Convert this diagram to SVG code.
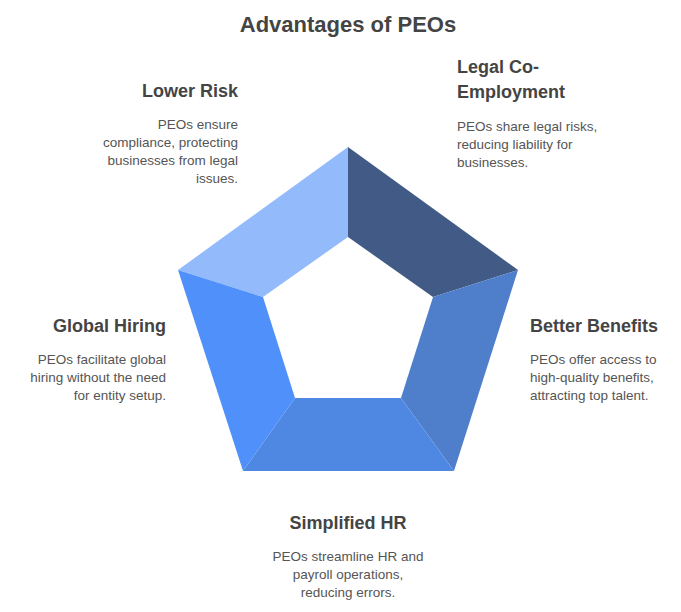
<svg xmlns="http://www.w3.org/2000/svg" width="681" height="612" viewBox="0 0 681 612">
<style>
text{font-family:"Liberation Sans",Arial,sans-serif}
.t{font-size:22px;font-weight:bold;fill:#444}
.h{font-size:18px;font-weight:bold;fill:#444}
.b{font-size:13.5px;fill:#555}
</style>
<rect width="681" height="612" fill="#fff"/>
<text class="t" x="348" y="32" text-anchor="middle">Advantages of PEOs</text>
<g id="connectors"></g>
<g id="seg-lower-risk"><polygon points="348,147 348,237 263,297 178,270" fill="#93bafb"/></g>
<g id="seg-legal"><polygon points="348,147 518,270 433,297 348,237" fill="#415b86"/></g>
<g id="seg-benefits"><polygon points="518,270 454,471 401,398 433,297" fill="#4f7fcb"/></g>
<g id="seg-hr"><polygon points="454,471 243,471 295,398 401,398" fill="#4f88e3"/></g>
<g id="seg-global"><polygon points="243,471 178,270 263,297 295,398" fill="#4f90fa"/></g>
<g id="lower-risk" text-anchor="end">
<text class="h" x="238" y="97">Lower Risk</text>
<text class="b" x="238" y="129">PEOs ensure</text>
<text class="b" x="238" y="147">compliance, protecting</text>
<text class="b" x="238" y="165">businesses from legal</text>
<text class="b" x="238" y="183">issues.</text>
</g>
<g id="legal">
<text class="h" x="457" y="73">Legal Co-</text>
<text class="h" x="457" y="98">Employment</text>
<text class="b" x="457" y="131">PEOs share legal risks,</text>
<text class="b" x="457" y="149">reducing liability for</text>
<text class="b" x="457" y="167">businesses.</text>
</g>
<g id="global" text-anchor="end">
<text class="h" x="166" y="332">Global Hiring</text>
<text class="b" x="166" y="364">PEOs facilitate global</text>
<text class="b" x="166" y="382">hiring without the need</text>
<text class="b" x="166" y="400">for entity setup.</text>
</g>
<g id="benefits">
<text class="h" x="530" y="332">Better Benefits</text>
<text class="b" x="530" y="364">PEOs offer access to</text>
<text class="b" x="530" y="382">high-quality benefits,</text>
<text class="b" x="530" y="400">attracting top talent.</text>
</g>
<g id="hr" text-anchor="middle">
<text class="h" x="348" y="529">Simplified HR</text>
<text class="b" x="348" y="561">PEOs streamline HR and</text>
<text class="b" x="348" y="579">payroll operations,</text>
<text class="b" x="348" y="597">reducing errors.</text>
</g>
</svg>
